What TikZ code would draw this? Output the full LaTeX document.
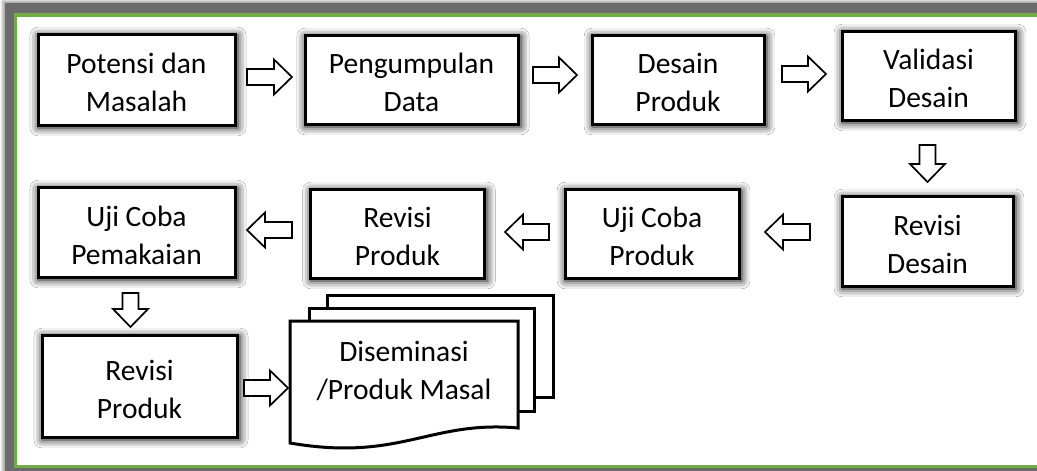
\documentclass[tikz,border=0pt]{standalone}
\usepackage{fontspec}
\setmainfont{Carlito}
\usetikzlibrary{shadows.blur,calc}
\definecolor{framegray}{HTML}{6B6B6B}
\definecolor{framegreen}{HTML}{70AD47}
\tikzset{
  glow/.style={blur shadow={shadow xshift=1.5pt, shadow yshift=-2pt, shadow blur radius=8pt, shadow opacity=100, shadow scale=1.015}},
  stepbox/.style={draw=black, line width=3pt, fill=white, inner sep=0pt, glow},
  txt/.style={align=center, font=\fontsize{29.5}{38}\selectfont, inner sep=0pt},
  page/.style={draw=black, line width=3pt, fill=white},
  barrowline/.style={draw=black, line width=1.7pt, fill=white, line join=miter},
  pics/barrow/.style={code={
    \path[barrowline] (-#1,-8) -- (#1-18,-8) -- (#1-18,-17.5) -- (#1,0) -- (#1-18,17.5) -- (#1-18,8) -- (-#1,8) -- cycle;}}
}
\begin{document}
\begin{tikzpicture}[x=1pt,y=-1pt]
\useasboundingbox (0,0) rectangle (1037,471);
% frame
\fill[framegray, blur shadow={shadow xshift=-2pt, shadow yshift=2pt, shadow blur radius=3pt, shadow opacity=40}] (5,3) rectangle (1050,480);
\fill[framegreen] (14,13) rectangle (1050,468);
\fill[white] (17,17) rectangle (1050,465);

% top row
\node[stepbox, minimum width=197pt, minimum height=91pt] (b1) at (136.5,79.5) {};
\node[stepbox, minimum width=213pt, minimum height=89pt] (b2) at (411.5,79.5) {};
\node[stepbox, minimum width=172pt, minimum height=89pt] (b3) at (678,79.5) {};
\node[stepbox, minimum width=173pt, minimum height=89pt] (b4) at (928.5,75.5) {};
% middle row
\node[stepbox, minimum width=171pt, minimum height=90pt] (b5) at (927.5,241) {};
\node[stepbox, minimum width=174pt, minimum height=89pt] (b6) at (652,233.5) {};
\node[stepbox, minimum width=174pt, minimum height=89pt] (b7) at (397.5,233.5) {};
\node[stepbox, minimum width=197pt, minimum height=90pt] (b8) at (136.5,232) {};
% bottom row
\node[stepbox, minimum width=195pt, minimum height=102pt] (b9) at (139.5,386) {};

\node[txt] (t1) at ([yshift=-3pt]b1.center) {Potensi dan\\Masalah};
\node[txt] (t2) at ([yshift=-3pt]b2.center) {Pengumpulan\\Data};
\node[txt] (t3) at ([yshift=-3pt]b3.center) {Desain\\Produk};
\node[txt] (t4) at ([yshift=-3pt]b4.center) {Validasi\\Desain};
\node[txt] (t5) at ([yshift=-3pt]b5.center) {Revisi\\Desain};
\node[txt] (t6) at ([yshift=-3pt]b6.center) {Uji Coba\\Produk};
\node[txt] (t7) at ([yshift=-3pt]b7.center) {Revisi\\Produk};
\node[txt] (t8) at ([yshift=-3pt]b8.center) {Uji Coba\\Pemakaian};
\node[txt] (t9) at ([yshift=-3pt]b9.center) {Revisi\\Produk};

% document stack
\begin{scope}[glow]
\path[page] (327,295) rectangle (553,397);
\path[page] (309,308) rectangle (534,411);
\path[page] (290,321) -- (518,321) -- (518,428)
   .. controls (430,420) and (400,462) .. (290,443) -- cycle;
\end{scope}
\node[txt] (b10) at (404,371) {Diseminasi\\/Produk Masal};

% block arrows
\pic at (269.5,77) {barrow=22.5};
\pic at (555,75) {barrow=22};
\pic at (804,74) {barrow=22};
\pic[rotate=-90] at (927.5,163.5) {barrow=18.5};
\pic[rotate=180] at (787.5,232) {barrow=22.5};
\pic[rotate=180] at (527,232) {barrow=22};
\pic[rotate=180] at (269.5,230) {barrow=22.5};
\pic[rotate=-90] at (130.5,310) {barrow=17};
\pic at (266,388) {barrow=22};
\end{tikzpicture}
\end{document}
